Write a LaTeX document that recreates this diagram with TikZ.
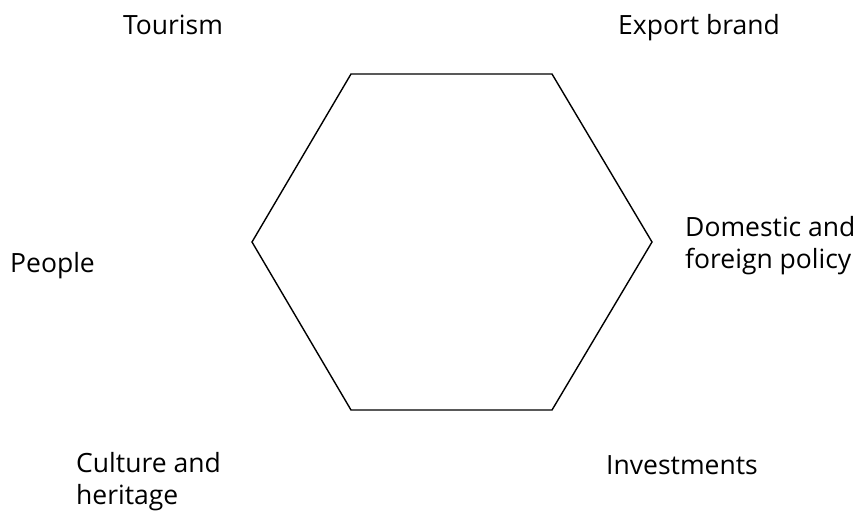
\documentclass[tikz,border=0pt]{standalone}
\usepackage{fontspec}
\setmainfont{Open Sans}
\begin{document}
\begin{tikzpicture}[x=1pt,y=-1pt,
  lbl/.style={font=\fontsize{26.5}{32}\selectfont, inner sep=0pt, align=left},
  hexline/.style={line width=1.4pt, line join=miter}]
\useasboundingbox (0,0) rectangle (858,511);
% hexagon corners
\coordinate (tl) at (351,74);
\coordinate (tr) at (552,74);
\coordinate (r)  at (652,242);
\coordinate (br) at (552,410);
\coordinate (bl) at (351,410);
\coordinate (l)  at (252,242);
\draw[hexline] (tl) -- (tr) -- (r) -- (br) -- (bl) -- (l) -- cycle;
% labels around the hexagon (two-line labels are placed by their last line)
\node[lbl, anchor=base] (tourism) at (173,35) {Tourism};
\node[lbl, anchor=base] (export) at (699,35) {Export brand};
\node[lbl, anchor=base west] (people) at (10,272) {People};
\node[lbl, anchor=base west] (policy) at (685,268) {Domestic and\\foreign policy};
\node[lbl, anchor=base west] (culture) at (76,504) {Culture and\\heritage};
\node[lbl, anchor=base west] (invest) at (606,474) {Investments};
\end{tikzpicture}
\end{document}
